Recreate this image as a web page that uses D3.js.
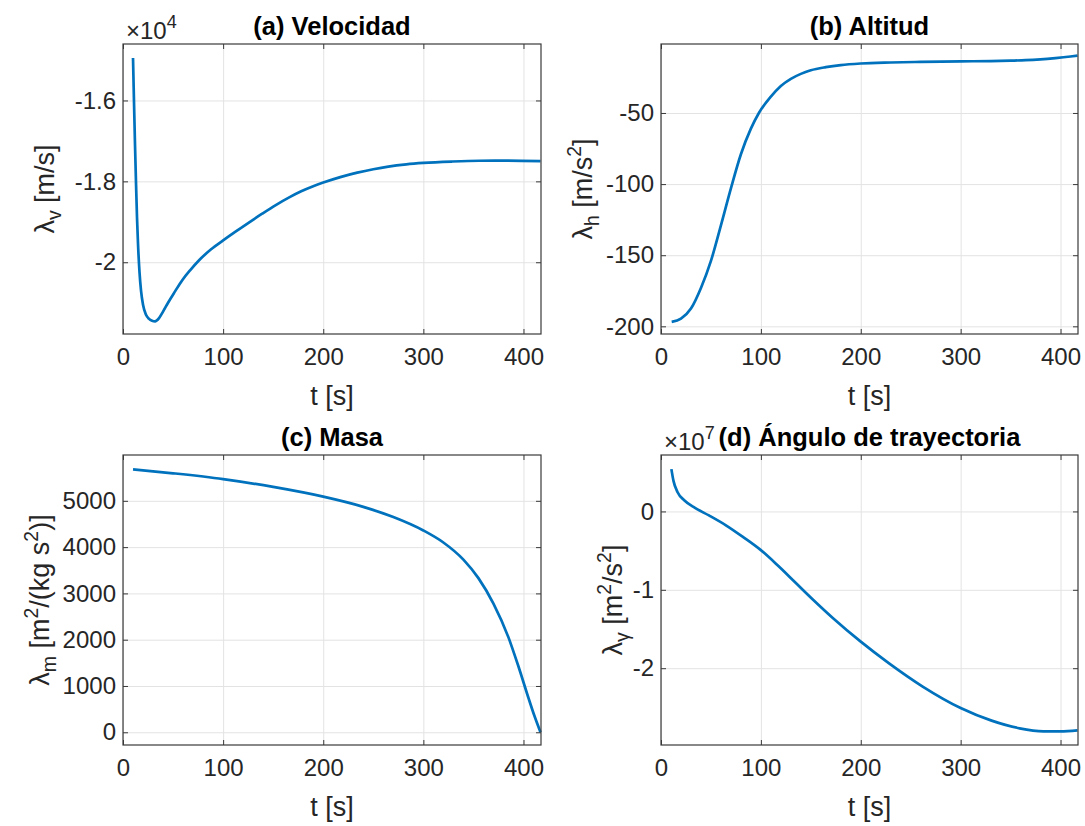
<!DOCTYPE html>
<html>
<head>
<meta charset="utf-8">
<script src="https://cdn.jsdelivr.net/npm/d3@7"></script>
<style>
  html, body { margin: 0; padding: 0; background: #fff; }
  svg { display: block; font-family: "Liberation Sans", Arial, Helvetica, sans-serif; }
</style>
</head>
<body>
<svg id="chart" width="1085" height="826"></svg>
<script>
// ---------- DATA ----------
const xTicks = [0, 100, 200, 300, 400];
const xLabel = "t [s]";

// (a) Velocidad  (values in m/s, axis shown x10^4)
const tA = [10, 10.5, 11, 12, 13, 14, 15, 16.5, 18, 20, 23, 26, 29, 32, 36, 40, 45, 52, 59, 67, 76, 88, 100, 112, 125, 139, 153, 166, 178, 190, 200, 217, 234, 250, 265, 283, 300, 328, 356, 384, 417];
const vA = [-14950, -15500, -16050, -17100, -18050, -18900, -19550, -20250, -20700, -21050, -21300, -21400, -21445, -21460, -21380, -21220, -21000, -20720, -20450, -20200, -19950, -19680, -19460, -19250, -19030, -18800, -18580, -18395, -18245, -18120, -18030, -17895, -17785, -17700, -17635, -17580, -17545, -17510, -17490, -17488, -17500];
const yTicksA = [-20000, -18000, -16000];

// (b) Altitud
const tB = [10.7, 20, 30, 40, 50, 60, 70, 80, 90, 98, 110, 120, 130, 140, 150, 165, 180, 200, 230, 260, 300, 330, 350, 365, 380, 395, 410, 417];
const vB = [-196.9, -194.6, -187.5, -173, -154, -129, -103, -79, -61, -50, -38.5, -31, -26, -22.5, -20, -17.8, -16.3, -15.2, -14.5, -14.1, -13.7, -13.5, -13.2, -12.9, -12.3, -11.4, -10.3, -9.7];
const yTicksB = [-200, -150, -100, -50];

// (c) Masa
const tC = [10, 50, 100, 150, 200, 240, 270, 300, 320, 340, 355, 370, 385, 395, 405, 411, 417];
const vC = [5680, 5595, 5470, 5300, 5090, 4870, 4650, 4360, 4100, 3730, 3330, 2780, 2050, 1420, 740, 350, 0];
const yTicksC = [0, 1000, 2000, 3000, 4000, 5000];

// (d) Ángulo de trayectoria (values in m^2/s^2, axis shown x10^7)
const tD = [10.4, 12.5, 16.6, 23.5, 34, 48, 65, 82, 100, 117, 134, 152, 172, 200, 228, 262, 300, 331, 359, 383, 400, 417];
const vD = [0.54e7, 0.39e7, 0.245e7, 0.14e7, 0.046e7, -0.051e7, -0.177e7, -0.325e7, -0.494e7, -0.690e7, -0.900e7, -1.123e7, -1.359e7, -1.661e7, -1.935e7, -2.234e7, -2.508e7, -2.669e7, -2.767e7, -2.805e7, -2.806e7, -2.793e7];
const yTicksD = [-2e7, -1e7, 0];

const titles = ["(a) Velocidad", "(b) Altitud", "(c) Masa", "(d) Ángulo de trayectoria"];

// ---------- LAYOUT / STYLE ----------
const svg = d3.select("#chart");
const LINE = "#0072BD", TXT = "#262626", GRID = "#e3e3e3", BOX = "#3a3a3a";
const TICK_FS = 24, LABEL_FS = 27, TITLE_FS = 25.5;

const panels = [
  { t: tA, v: vA, yTicks: yTicksA, ydom: [-21774, -14604], scale: 1e4, exp: "4",
    box: [123, 44, 541, 334], title: titles[0],
    ylab: [{s:"λ"},{s:"v",sub:true},{s:" [m/s]"}], ylabX: 54 },
  { t: tB, v: vB, yTicks: yTicksB, ydom: [-205.4, -1.5], scale: 1, exp: null,
    box: [661, 44, 1078, 334], title: titles[1],
    ylab: [{s:"λ"},{s:"h",sub:true},{s:" [m/s"},{s:"2",sup:true},{s:"]"}], ylabX: 592 },
  { t: tC, v: vC, yTicks: yTicksC, ydom: [-275, 5990], scale: 1, exp: null,
    box: [123, 455, 541, 745], title: titles[2],
    ylab: [{s:"λ"},{s:"m",sub:true},{s:" [m"},{s:"2",sup:true},{s:"/(kg s"},{s:"2",sup:true},{s:")]"}], ylabX: 49 },
  { t: tD, v: vD, yTicks: yTicksD, ydom: [-2.98e7, 0.72e7], scale: 1e7, exp: "7",
    box: [661, 455, 1078, 745], title: titles[3],
    ylab: [{s:"λ"},{s:"γ",sub:true},{s:" [m"},{s:"2",sup:true},{s:"/s"},{s:"2",sup:true},{s:"]"}], ylabX: 622 }
];

const xDomain = [0, 417.5];

panels.forEach(p => {
  const [x0, y0, x1, y1] = p.box;
  const w = x1 - x0, h = y1 - y0;
  const g = svg.append("g").attr("transform", `translate(${x0},${y0})`);
  const x = d3.scaleLinear().domain(xDomain).range([0, w]);
  const y = d3.scaleLinear().domain(p.ydom).range([h, 0]);
  const fmt = d => String(+(d / p.scale).toFixed(4));

  // grid
  g.append("g").attr("transform", `translate(0,${h})`)
    .call(d3.axisBottom(x).tickValues(xTicks).tickSize(-h).tickFormat(""))
    .call(s => s.select(".domain").remove())
    .call(s => s.selectAll("line").attr("stroke", GRID).attr("stroke-width", 1));
  g.append("g")
    .call(d3.axisLeft(y).tickValues(p.yTicks).tickSize(-w).tickFormat(""))
    .call(s => s.select(".domain").remove())
    .call(s => s.selectAll("line").attr("stroke", GRID).attr("stroke-width", 1));

  // data line
  const line = d3.line().x((d, i) => x(p.t[i])).y(d => y(d)).curve(d3.curveMonotoneX);
  g.append("path").datum(p.v).attr("d", line)
    .attr("fill", "none").attr("stroke", LINE).attr("stroke-width", 2.7)
    .attr("stroke-linejoin", "round").attr("stroke-linecap", "butt");

  // axes with inward ticks
  const styleAxis = s => {
    s.select(".domain").remove();
    s.selectAll("line").attr("stroke", BOX).attr("stroke-width", 1);
    s.selectAll("text").attr("fill", TXT).attr("font-size", TICK_FS)
      .attr("font-family", "Liberation Sans, Arial, sans-serif");
  };
  g.append("g").attr("transform", `translate(0,${h})`)
    .call(d3.axisBottom(x).tickValues(xTicks).tickSize(-5).tickPadding(14).tickFormat(d3.format("d")))
    .call(styleAxis);
  g.append("g")
    .call(d3.axisTop(x).tickValues(xTicks).tickSize(-5).tickFormat(""))
    .call(styleAxis);
  g.append("g")
    .call(d3.axisLeft(y).tickValues(p.yTicks).tickSize(-5).tickPadding(7).tickFormat(fmt))
    .call(styleAxis);
  g.append("g").attr("transform", `translate(${w},0)`)
    .call(d3.axisRight(y).tickValues(p.yTicks).tickSize(-5).tickFormat(""))
    .call(styleAxis);

  // box
  g.append("rect").attr("width", w).attr("height", h)
    .attr("fill", "none").attr("stroke", BOX).attr("stroke-width", 1.2);

  // title
  svg.append("text").attr("x", x0 + w / 2).attr("y", y0 - 9)
    .attr("text-anchor", "middle").attr("font-weight", "bold")
    .attr("font-size", TITLE_FS).attr("fill", "#000").text(p.title);

  // x label
  svg.append("text").attr("x", x0 + w / 2).attr("y", y1 + 71)
    .attr("text-anchor", "middle").attr("font-size", LABEL_FS).attr("fill", TXT).text(xLabel);

  // y label
  const yl = svg.append("text")
    .attr("transform", `translate(${p.ylabX},${y0 + h / 2}) rotate(-90)`)
    .attr("text-anchor", "middle").attr("font-size", LABEL_FS).attr("fill", TXT);
  let cur = 0;
  p.ylab.forEach(part => {
    const ts = yl.append("tspan").text(part.s);
    const target = part.sub ? 7 : part.sup ? -11 : 0;
    if (part.sub || part.sup) ts.attr("font-size", LABEL_FS * 0.72);
    ts.attr("dy", target - cur);
    cur = target;
  });

  // exponent label
  if (p.exp) {
    const ex = svg.append("text").attr("x", x0 + 3).attr("y", y0 - 5)
      .attr("font-size", TICK_FS).attr("fill", TXT);
    ex.append("tspan").text("×10");
    ex.append("tspan").attr("font-size", TICK_FS * 0.75).attr("dy", -11).text(p.exp);
  }
});
</script>
</body>
</html>
